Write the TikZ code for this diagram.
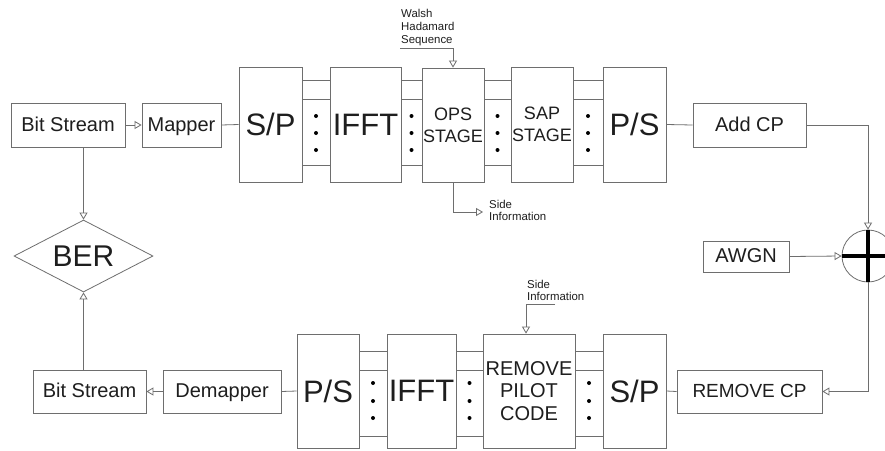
\documentclass[tikz,border=0pt]{standalone}
\usepackage{fontspec}
\setmainfont{Liberation Sans}
\usetikzlibrary{arrows.meta,shapes.geometric,calc}
\definecolor{ln}{HTML}{6E6E6E}
\definecolor{tx}{HTML}{1E1E1E}
\begin{document}
\begin{tikzpicture}[x=1pt,y=-1pt,
  blk/.style={draw=ln, line width=0.8pt, text=tx, inner sep=0pt, align=center},
  fnt/.style={font=\fontsize{20}{22.5}\selectfont, text height=14pt, text depth=2pt},
  mid/.style={font=\fontsize{18}{22}\selectfont},
  big/.style={font=\fontsize{31}{34}\selectfont},
  sml/.style={font=\fontsize{11.4}{13}\selectfont, text=tx, inner sep=0pt, align=left, anchor=north west},
  wire/.style={draw=ln, line width=0.8pt},
  arr/.style={wire, -{Triangle[open,length=7pt,width=8pt]}}
]
\useasboundingbox (0,0) rectangle (885,450);
\fill[white] (0,0) rectangle (885,450);

% row heights
\coordinate (ty1) at (0,80);
\coordinate (ty2) at (0,99);
\coordinate (ty3) at (0,165);
\coordinate (td1) at (0,116);
\coordinate (td2) at (0,133);
\coordinate (td3) at (0,150);
\coordinate (by1) at (0,351);
\coordinate (by2) at (0,370);
\coordinate (by3) at (0,436);
\coordinate (bd1) at (0,383);
\coordinate (bd2) at (0,401);
\coordinate (bd3) at (0,418);

% top row
\node[blk,fnt,minimum width=114pt,minimum height=44pt] (bs1) at (68,125) {Bit Stream};
\node[blk,fnt,minimum width=79pt,minimum height=44pt] (map) at (181.5,125) {Mapper};
\node[blk,big,minimum width=63pt,minimum height=115pt] (sp1) at (270.5,124.5) {S/P};
\node[blk,big,minimum width=71pt,minimum height=115pt] (ifft1) at (365.5,124.5) {IFFT};
\node[blk,mid,minimum width=62pt,minimum height=114pt] (ops) at (453,125) {OPS\\STAGE};
\node[blk,mid,minimum width=62pt,minimum height=115pt] (sap) at (542,124.5) {SAP\\STAGE};
\node[blk,big,minimum width=63pt,minimum height=115pt] (ps1) at (634.5,124.5) {P/S};
\node[blk,fnt,minimum width=113pt,minimum height=44pt] (addcp) at (749.5,125) {Add CP};

% adder and noise
\node[circle,draw=ln,line width=0.8pt,minimum size=52pt,inner sep=0pt] (sum) at (868,256) {};
\draw[line width=3.5pt,black] (sum.north) -- (sum.south);
\draw[line width=3.5pt,black] (sum.west) -- (sum.east);
\node[blk,fnt,minimum width=86pt,minimum height=31pt] (awgn) at (746,256.5) {AWGN};

% bottom row
\node[blk,fnt,font=\fontsize{19}{22}\selectfont,minimum width=145pt,minimum height=43pt] (rcp) at (749.5,391.5) {REMOVE CP};
\node[blk,big,minimum width=63pt,minimum height=114pt] (sp2) at (634.5,391) {S/P};
\node[blk,font=\fontsize{20}{22.5}\selectfont,minimum width=92pt,minimum height=114pt] (rpc) at (529,391) {REMOVE\\PILOT\\CODE};
\node[blk,big,minimum width=69pt,minimum height=114pt] (ifft2) at (421.5,391) {IFFT};
\node[blk,big,minimum width=62pt,minimum height=114pt] (ps2) at (328,391) {P/S};
\node[blk,fnt,minimum width=118pt,minimum height=43pt] (demap) at (222,391.5) {Demapper};
\node[blk,fnt,minimum width=113pt,minimum height=43pt] (bs2) at (89.5,391.5) {Bit Stream};

% BER
\node[diamond,blk,font=\fontsize{30}{32}\selectfont,aspect=1.93,minimum width=139pt,minimum height=72pt] (ber) at (83.5,256) {BER};

% labels
\node[sml] (walsh) at (401,9) {Walsh\\Hadamard\\Sequence};
\node[sml,font=\fontsize{11.4}{12.5}\selectfont] (side1) at (489,200) {Side\\Information};
\node[sml,font=\fontsize{11.4}{12.5}\selectfont] (side2) at (527,280) {Side\\Information};

% connectors top
\draw[arr] (bs1.east) -- (map.west);
\draw[wire] (map.east) -- (sp1.west);
\foreach \a/\b in {sp1/ifft1, ifft1/ops, ops/sap, sap/ps1} {
  \foreach \c in {ty1,ty2,ty3} \draw[wire] (\a.east |- \c) -- (\b.west |- \c);
  \coordinate (m) at ($(\a.east)!0.5!(\b.west)$);
  \foreach \d in {td1,td2,td3} \fill[black] (m |- \d) circle (2pt);
}
\draw[wire] (ps1.east) -- (addcp.west);
\coordinate (wh) at (400,48);
\draw[arr] (wh) -| (ops.north);
\coordinate (si1) at (483,212);
\draw[arr] (ops.south) |- (si1);

% right side
\draw[arr] (addcp.east) -| (sum.north);
\draw[arr] (awgn.east) -- (sum.west);
\draw[arr] (sum.south) |- (rcp.east);

% connectors bottom
\draw[wire] (rcp.west) -- (sp2.east);
\foreach \a/\b in {ps2/ifft2, ifft2/rpc, rpc/sp2} {
  \foreach \c in {by1,by2,by3} \draw[wire] (\a.east |- \c) -- (\b.west |- \c);
  \coordinate (m) at ($(\a.east)!0.5!(\b.west)$);
  \foreach \d in {bd1,bd2,bd3} \fill[black] (m |- \d) circle (2pt);
}
\coordinate (si2) at (555,304);
\draw[arr] (si2) -| ([xshift=-3pt]rpc.north);
\draw[wire] (demap.east) -- (ps2.west);
\draw[arr] (demap.west) -- (bs2.east);

% BER connectors
\draw[arr] (ber.north |- bs1.south) -- (ber.north);
\draw[arr] (ber.south |- bs2.north) -- (ber.south);
\end{tikzpicture}
\end{document}
